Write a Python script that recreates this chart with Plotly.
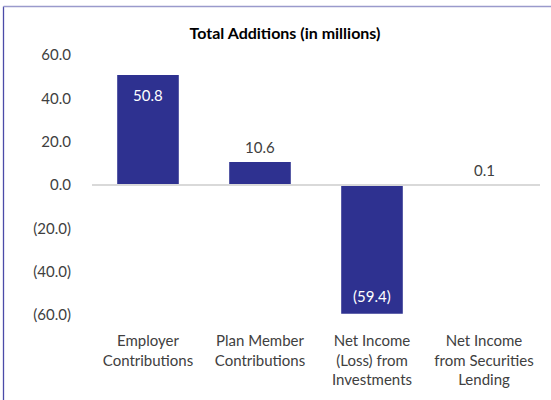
import plotly.graph_objects as go

# Data (in millions)
categories = [
    "Employer<br>Contributions",
    "Plan Member<br>Contributions",
    "Net Income<br>(Loss) from<br>Investments",
    "Net Income<br>from Securities<br>Lending",
]
values = [50.8, 10.6, -59.4, 0.1]
label_inside = [True, False, True, False]

tick_vals = [60, 40, 20, 0, -20, -40, -60]
tick_text = ["60.0", "40.0", "20.0", "0.0", "(20.0)", "(40.0)", "(60.0)"]

BAR = "#2E3190"
TEXT = "#404040"
FONT = "Lato"

W, H = 551, 400
ML, MR, MT, MB = 92, 11, 55, 85
PW, PH = W - ML - MR, H - MT - MB


def fmt(v):
    return f"({abs(v):.1f})" if v < 0 else f"{v:.1f}"


fig = go.Figure(
    go.Bar(
        x=categories,
        y=values,
        marker=dict(color=BAR, line=dict(width=0)),
        width=0.55,
        hoverinfo="skip",
    )
)

# Value labels
for cat, v, inside in zip(categories, values, label_inside):
    if inside:
        shift = -20 if v >= 0 else 18
        color = "white"
    else:
        shift = 15 if v >= 0 else -15
        color = TEXT
    fig.add_annotation(
        x=cat, y=v, text=fmt(v), showarrow=False, yshift=shift,
        font=dict(family=FONT, size=15, color=color),
    )

# Baseline at zero, drawn over the bars
fig.add_shape(type="line", xref="paper", yref="y", x0=0, x1=1, y0=0, y1=0,
              line=dict(color="#d9d9d9", width=2), layer="above")

# Chart frame (left and top edges)
def px_x(p):
    return (p - ML) / PW


def px_y(p):
    return 1 - (p - MT) / PH


fig.add_shape(type="line", xref="paper", yref="paper",
              x0=px_x(3.5), x1=px_x(3.5), y0=px_y(6.5), y1=px_y(420),
              line=dict(color="#4b4ba8", width=1.3))
fig.add_shape(type="line", xref="paper", yref="paper",
              x0=px_x(3.5), x1=px_x(580), y0=px_y(6.5), y1=px_y(6.5),
              line=dict(color="#9a9acc", width=1.5))

fig.update_layout(
    width=W, height=H,
    margin=dict(l=ML, r=MR, t=MT, b=MB),
    paper_bgcolor="white", plot_bgcolor="white",
    showlegend=False,
    bargap=0.45,
    font=dict(family=FONT, size=15, color=TEXT),
    title=dict(
        text="<b>Total Additions (in millions)</b>",
        x=285 / W, xanchor="center", y=1 - 33 / H, yanchor="middle",
        font=dict(family=FONT, size=16, color="black"),
    ),
    xaxis=dict(
        showline=False, showgrid=False, zeroline=False, ticks="",
        tickfont=dict(family=FONT, size=15, color=TEXT),
        ticklabelstandoff=15,
    ),
    yaxis=dict(
        range=[-60, 60],
        tickvals=tick_vals, ticktext=tick_text,
        showgrid=False, showline=False, zeroline=False,
        ticks="",
        tickfont=dict(family=FONT, size=15, color=TEXT),
        ticklabelstandoff=20,
    ),
)

fig.write_html("out.html")
